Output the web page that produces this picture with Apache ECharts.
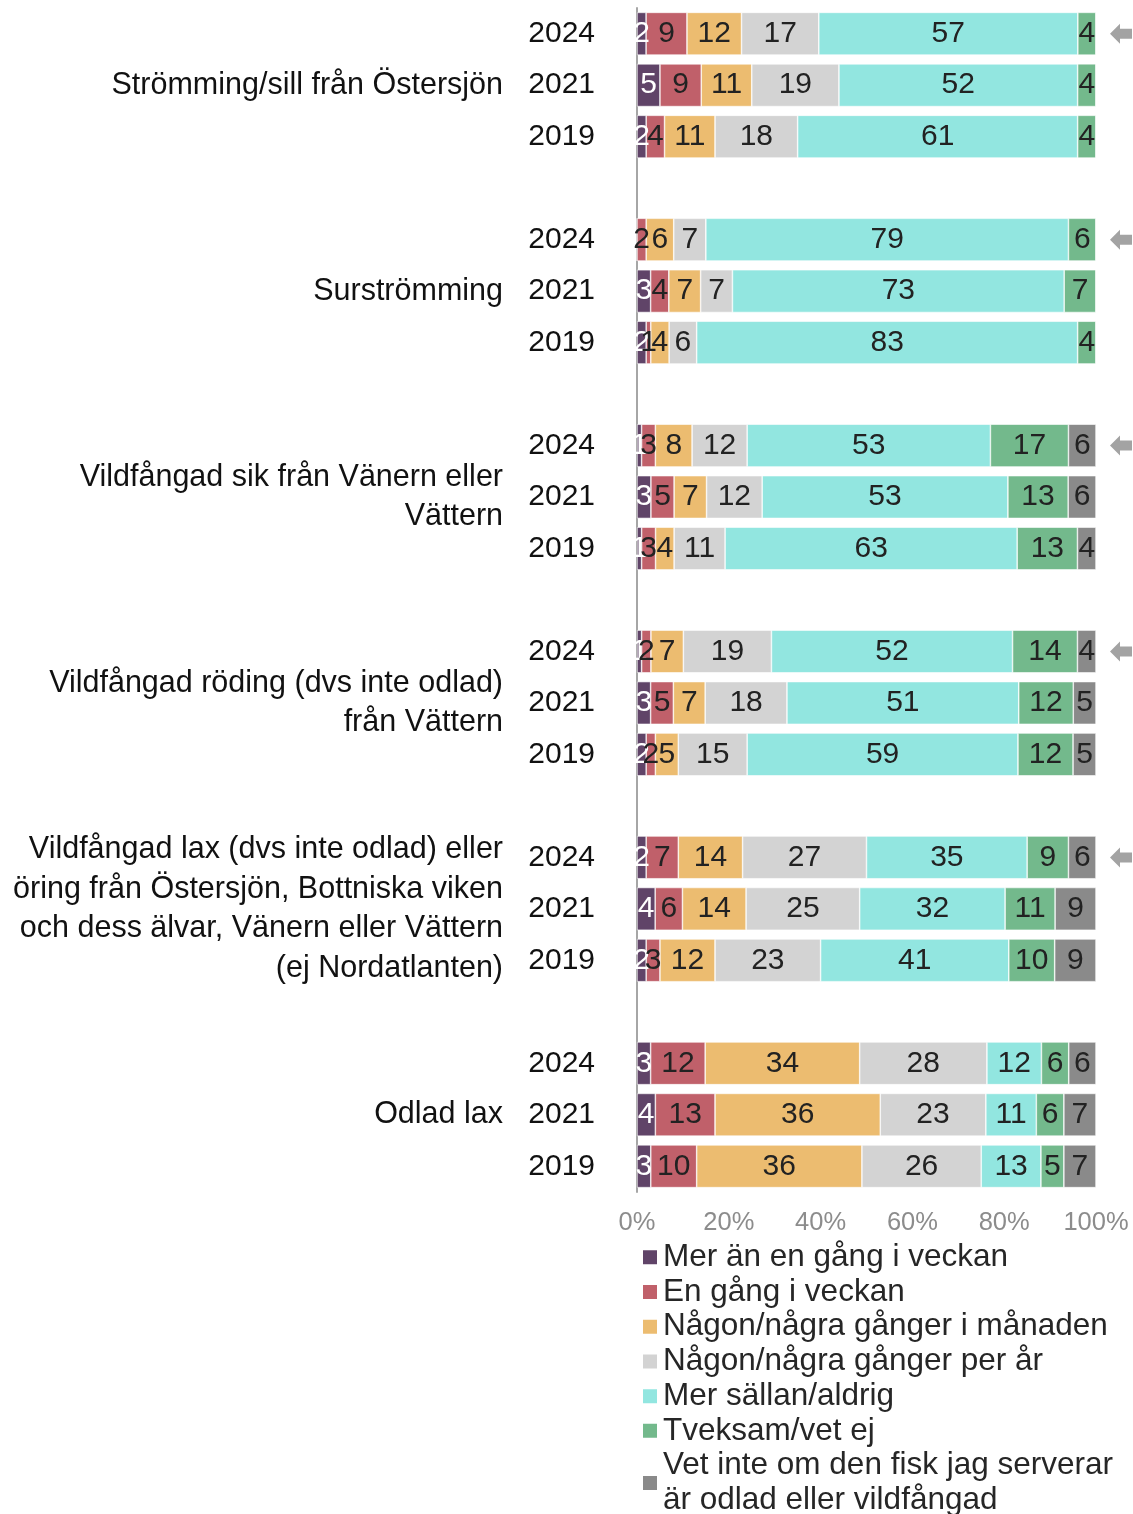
<!DOCTYPE html>
<html>
<head>
<meta charset="utf-8">
<script src="https://cdn.jsdelivr.net/npm/echarts@6/dist/echarts.min.js"></script>
<style>
  html, body { margin: 0; padding: 0; background: #fff; }
  #chart { width: 1133px; height: 1514px; }
</style>
</head>
<body>
<div id="chart"></div>
<script>
// fiskgrupper (etikett visas på mittersta raden)
const groups = [
  "Strömming/sill från Östersjön",
  "Surströmming",
  "Vildfångad sik från Vänern eller\nVättern",
  "Vildfångad röding (dvs inte odlad)\nfrån Vättern",
  "Vildfångad lax (dvs inte odlad) eller\nöring från Östersjön, Bottniska viken\noch dess älvar, Vänern eller Vättern\n(ej Nordatlanten)",
  "Odlad lax",
];
const years = ["2024", "2021", "2019"];
const xTicks = [0, 20, 40, 60, 80, 100];

// värden i procent, ordning: grupp för grupp, 2024, 2021, 2019
const merAnEnGang = [2, 5, 2, 0, 3, 2, 1, 3, 1, 1, 3, 2, 2, 4, 2, 3, 4, 3];
const enGang = [9, 9, 4, 2, 4, 1, 3, 5, 3, 2, 5, 2, 7, 6, 3, 12, 13, 10];
const manaden = [12, 11, 11, 6, 7, 4, 8, 7, 4, 7, 7, 5, 14, 14, 12, 34, 36, 36];
const perAr = [17, 19, 18, 7, 7, 6, 12, 12, 11, 19, 18, 15, 27, 25, 23, 28, 23, 26];
const sallan = [57, 52, 61, 79, 73, 83, 53, 53, 63, 52, 51, 59, 35, 32, 41, 12, 11, 13];
const tveksam = [4, 4, 4, 6, 7, 4, 17, 13, 13, 14, 12, 12, 9, 11, 10, 6, 6, 5];
const vetInte = [0, 0, 0, 0, 0, 0, 6, 6, 4, 4, 5, 5, 6, 9, 9, 6, 7, 7];

// pilar vid 2024 för grupperna 0-4
const arrowGroups = [0, 1, 2, 3, 4];

const seriesDefs = [
  { name: "Mer än en gång i veckan", data: merAnEnGang, color: "#604468", label: "#ffffff" },
  { name: "En gång i veckan", data: enGang, color: "#c0606a", label: "#222222" },
  { name: "Någon/några gånger i månaden", data: manaden, color: "#ecbc70", label: "#222222" },
  { name: "Någon/några gånger per år", data: perAr, color: "#d3d3d3", label: "#222222" },
  { name: "Mer sällan/aldrig", data: sallan, color: "#92e6e0", label: "#222222" },
  { name: "Tveksam/vet ej", data: tveksam, color: "#73b98c", label: "#222222" },
  { name: "Vet inte om den fisk jag serverar\när odlad eller vildfångad", data: vetInte, color: "#8a8a8a", label: "#222222" },
];

const FONT = "'Liberation Sans', Arial, sans-serif";

// radindex: 4 rader per grupp (3 år + mellanrum)
const nRows = groups.length * 4 - 1;
const rowOf = (i) => Math.floor(i / 3) * 4 + (i % 3);
const yearCats = [];
const groupCats = [];
for (let r = 0; r < nRows; r++) {
  const k = r % 4;
  yearCats.push(k < 3 ? years[k] : "");
  groupCats.push(k === 1 ? groups[Math.floor(r / 4)] : "");
}

// summa per stapel för 100%-normalisering
const totals = merAnEnGang.map((_, i) => seriesDefs.reduce((s, d) => s + d.data[i], 0));

const series = seriesDefs.map((d) => {
  const arr = new Array(nRows).fill("-");
  d.data.forEach((v, i) => {
    arr[rowOf(i)] = { value: (v / totals[i]) * 100, raw: v };
  });
  return {
    name: d.name,
    type: "bar",
    stack: "tot",
    barCategoryGap: "17%",
    data: arr,
    itemStyle: { color: d.color, borderColor: "#ffffff", borderWidth: 0.6 },
    label: {
      show: true,
      position: "inside",
      color: d.label,
      fontFamily: FONT,
      fontSize: 30,
      formatter: (p) => (p.data && p.data.raw ? String(p.data.raw) : ""),
    },
    emphasis: { disabled: true },
  };
});

series.push({
  type: "scatter",
  data: arrowGroups.map((g) => [100, g * 4]),
  symbol: "path://M0,10 L10,0 L10,5 L22,5 L22,15 L10,15 L10,20 Z",
  symbolSize: [22, 20],
  symbolOffset: [25, 0],
  itemStyle: { color: "#8c8c8c" },
  clip: false,
  silent: true,
});

const chart = echarts.init(document.getElementById("chart"));
chart.setOption({
  animation: false,
  textStyle: { fontFamily: FONT },
  grid: { left: 637, right: 37, top: 8, bottom: 322 },
  xAxis: {
    type: "value",
    min: 0,
    max: 100,
    interval: 20,
    splitLine: { show: false },
    axisLine: { show: false },
    axisTick: { show: false },
    axisLabel: {
      color: "#8c8c8c",
      fontSize: 25.5,
      margin: 18,
      fontFamily: FONT,
      formatter: (v) => (xTicks.includes(v) ? v + "%" : ""),
    },
  },
  yAxis: [
    {
      type: "category",
      inverse: true,
      data: yearCats,
      axisLine: { show: true, lineStyle: { color: "#a6a6a6", width: 2 } },
      axisTick: { show: false },
      axisLabel: { color: "#111111", fontSize: 30, margin: 42, fontFamily: FONT, interval: 0 },
    },
    {
      type: "category",
      inverse: true,
      position: "left",
      data: groupCats,
      axisLine: { show: false },
      axisTick: { show: false },
      axisLabel: {
        color: "#111111",
        fontSize: 30.5,
        lineHeight: 39.5,
        margin: 134,
        align: "right",
        fontFamily: FONT,
        interval: 0,
      },
    },
  ],
  legend: {
    orient: "vertical",
    left: 641,
    top: 1240,
    height: 320,
    padding: 0,
    itemWidth: 16,
    itemHeight: 16,
    itemGap: 0,
    icon: "rect",
    data: seriesDefs.map((d) => d.name),
    textStyle: { color: "#262626", fontSize: 31.5, lineHeight: 34.7, fontFamily: FONT },
  },
  series: series,
});
</script>
</body>
</html>
